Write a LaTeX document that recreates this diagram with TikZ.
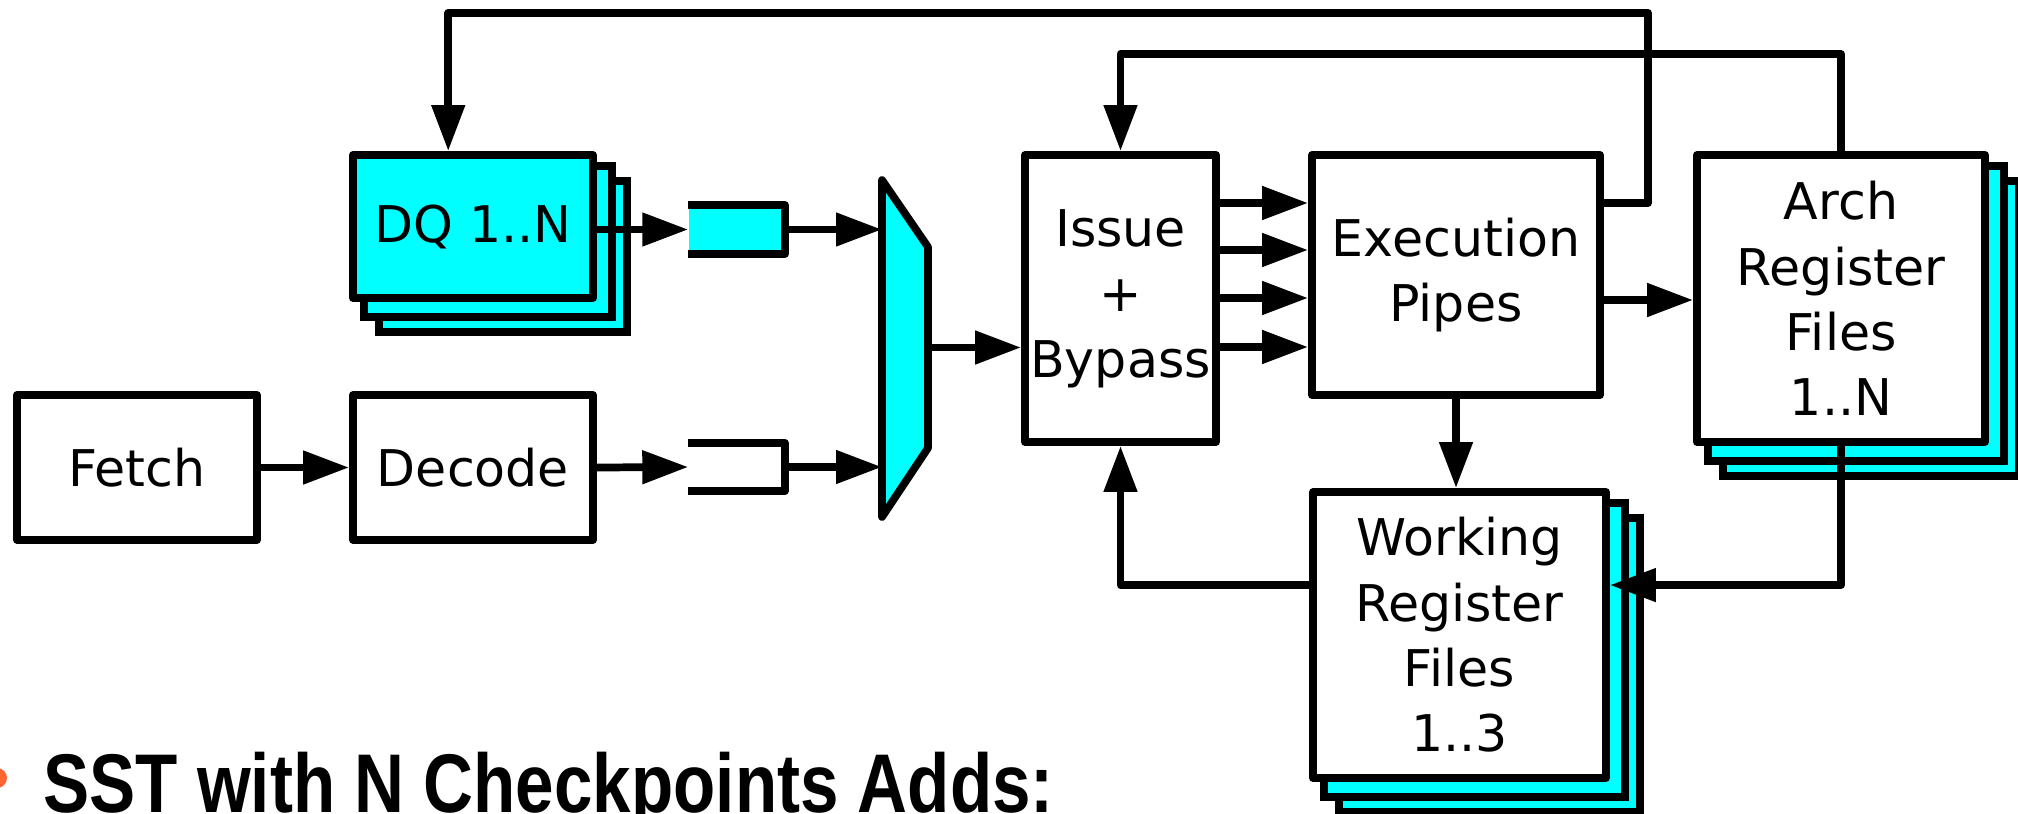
\documentclass[tikz,border=0pt]{standalone}
\usepackage{fontspec}
\setmainfont{DejaVu Sans}
\newfontfamily\headfont{Liberation Sans}
\usetikzlibrary{positioning,arrows.meta,calc,backgrounds}
\definecolor{qcyan}{RGB}{0,255,255}
\definecolor{bulletorange}{RGB}{255,102,51}
\tikzset{
  fig/.style={font=\fontsize{14.4}{18.6}\selectfont,line join=round},
  box/.style={draw,line width=2.2pt,fill=white,inner sep=0pt,align=center,
              font=\fontsize{14.4}{18.6}\selectfont},
  cyanbox/.style={box,fill=qcyan},
  buf/.style={inner sep=0pt,minimum width=9.5mm,minimum height=4.7mm},
  wire/.style={line width=2.2pt},
  ln/.style={-{Triangle[length=4.6mm,width=3.2mm]},line width=2.2pt},
}
% two copies of a box, shifted down and right, behind it
\newcommand{\stackbehind}[2]{%
  \begin{scope}[on background layer]
    \foreach \k in {2,1}
      \draw[wire,fill=#2] ($(#1.north west)+(0.15*\k,-0.15*\k)$)
        rectangle ($(#1.south east)+(0.15*\k,-0.15*\k)$);
  \end{scope}}

\begin{document}
\begin{tikzpicture}[fig]

\useasboundingbox (0,0) rectangle (20.18,8.13);
\clip (0,0) rectangle (20.18,8.13);

% front end
\node[box,minimum width=2.40cm,minimum height=1.45cm] (fetch) at (1.37,3.455) {Fetch};
\node[box,minimum width=2.40cm,minimum height=1.45cm] (decode) at (4.73,3.455) {Decode};
\node[cyanbox,minimum width=2.40cm,minimum height=1.43cm] (dq) at (4.73,5.865) {DQ 1..N};
\stackbehind{dq}{qcyan}

\node[buf,fill=qcyan] (bufa) at (7.365,5.835) {};
\node[buf] (bufb) at (7.365,3.46) {};
\draw[wire] (bufa.north west) -- (bufa.north east) -- (bufa.south east) -- (bufa.south west);
\draw[wire] (bufb.north west) -- (bufb.north east) -- (bufb.south east) -- (bufb.south west);

% mux
\draw[wire,fill=qcyan] (8.82,6.33) -- (9.28,5.66) -- (9.28,3.65) -- (8.82,2.96) -- cycle;
\coordinate (muxina) at (8.82,5.835);
\coordinate (muxinb) at (8.82,3.46);
\coordinate (muxout) at (9.28,4.655);

% back end
\node[box,minimum width=1.91cm,minimum height=2.87cm] (issue) at (11.205,5.145) {Issue\\+\\Bypass};
\node[box,minimum width=2.88cm,minimum height=2.40cm] (exec) at (14.56,5.38) {Execution\\Pipes};
\node[box,minimum width=2.88cm,minimum height=2.87cm] (arch) at (18.41,5.145)
  {Arch\\Register\\Files\\1..N};
\stackbehind{arch}{qcyan}
\node[box,minimum width=2.93cm,minimum height=2.86cm] (work) at (14.595,1.78)
  {Working\\Register\\Files\\1..3};
\stackbehind{work}{qcyan}

% forward paths
\draw[ln] (fetch.east) -- (decode.west);
\draw[ln] (decode.east) -- (bufb.west);
\draw[ln] (bufb.east) -- (muxinb);
\draw[ln] (dq.east |- bufa.west) -- (bufa.west);
\draw[ln] (bufa.east) -- (muxina);
\draw[ln] (muxout) -- (muxout -| issue.west);
\foreach \y in {6.10,5.63,5.15,4.66}
  \draw[ln] (issue.east |- 0,\y) -- (exec.west |- 0,\y);
\draw[ln] (exec.east |- 0,5.13) -- (arch.west |- 0,5.13);
\draw[ln] (exec.south) -- (exec.south |- work.north);

% feedback paths
\coordinate (dqin) at ($(dq.north west)!0.4!(dq.north east)$);
\coordinate (topa) at (16.48,8.00);
\draw[ln] (exec.east |- 0,6.10) -| (topa) -| (dqin);
\draw[ln] (arch.north) -- ++(0,0.97) -| (issue.north);
\coordinate (wl) at ($(work.north west)!0.33!(work.south west)$);
\coordinate (wr) at ($(work.north east)!0.33!(work.south east)$);
\draw[ln] (wl) -| (issue.south);
\draw[ln] (arch.south) |- (wr);

% slide text below
\fill[bulletorange] (-0.03,0.35) circle (0.1);
\node[anchor=base west,inner sep=0pt,xscale=0.83,
      font=\headfont\bfseries\fontsize{23.7}{28}\selectfont] (title) at (0.43,0.01)
  {SST with N Checkpoints Adds:};

\end{tikzpicture}
\end{document}
